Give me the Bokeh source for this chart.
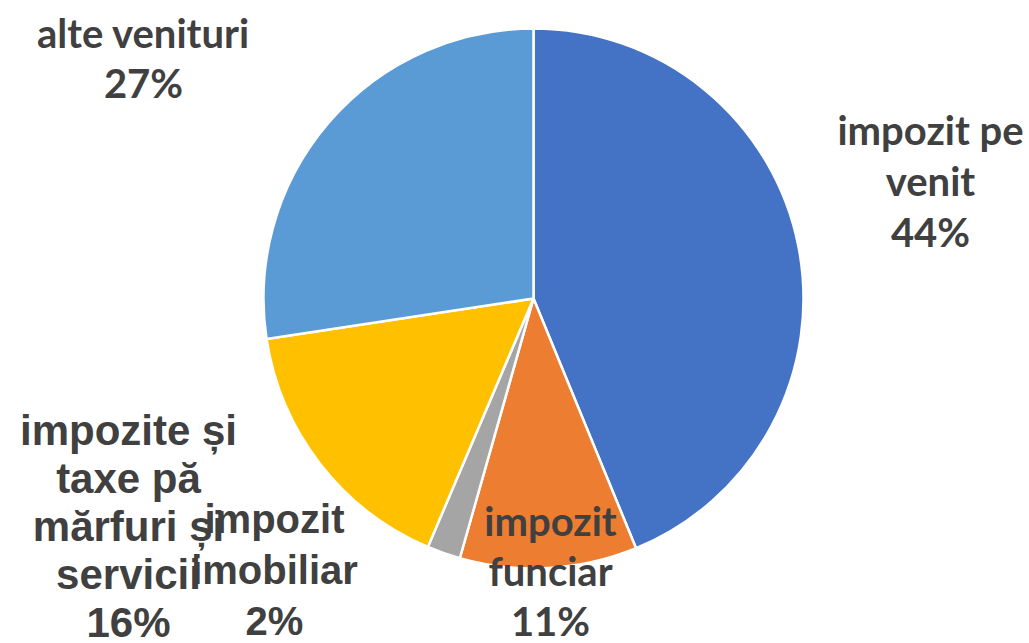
import math
from bokeh.plotting import figure
from bokeh.models import Range1d, ColumnDataSource
from bokeh.core.properties import value
from bokeh.embed import file_html
from bokeh.resources import INLINE

# ---- data ----
categories = ["impozit pe venit", "impozit funciar", "impozit imobiliar",
              "impozite și taxe pă mărfuri și servicii", "alte venituri"]
shares = [43.8, 10.6, 2.0, 16.2, 27.4]
pct_labels = ["44%", "11%", "2%", "16%", "27%"]
label_lines = [["impozit pe", "venit"], ["impozit", "funciar"], ["impozit", "imobiliar"],
               ["impozite și", "taxe pă", "mărfuri și", "servicii"], ["alte venituri"]]
colors = ["#4472C4", "#ED7D31", "#A5A5A5", "#FFC000", "#5B9BD5"]

# ---- layout (styles / positions) ----
W, H = 1029, 643
def X(px): return px
def Y(py): return H - py

cx, cy, R = X(533), Y(298), 270
label_anchor = [(930, 129), (550, 520), (274, 518), (128, 430), (143, 32)]  # first line centre (image px)
label_step = [51, 50, 51, 48, 50]
label_font = ["Lato", "Lato", "Liberation Sans", "Liberation Sans", "Lato"]
label_size = ["40px", "40px", "40px", "42px", "40px"]

p = figure(width=W, height=H, x_range=Range1d(0, W), y_range=Range1d(0, H),
           output_backend="svg", toolbar_location=None, min_border=0)
p.axis.visible = False
p.grid.visible = False
p.outline_line_color = None

total = sum(shares)
starts, ends = [], []
cum = 0.0
for s in shares:
    starts.append(math.pi / 2 - 2 * math.pi * cum / total)
    cum += s
    ends.append(math.pi / 2 - 2 * math.pi * cum / total)

src = ColumnDataSource(dict(start=starts, end=ends, color=colors, name=categories))
p.wedge(x=cx, y=cy, radius=R, start_angle="start", end_angle="end", direction="clock",
        fill_color="color", line_color="white", line_width=2.5, source=src)

for i in range(len(categories)):
    lines = label_lines[i] + [pct_labels[i]]
    ax, ay = label_anchor[i]
    xs = [X(ax)] * len(lines)
    ys = [Y(ay + k * label_step[i]) for k in range(len(lines))]
    p.text(x=xs, y=ys, text=lines, text_align="center", text_baseline="middle",
           text_font=value(label_font[i]), text_font_size=label_size[i],
           text_font_style="bold", text_color="#404040")

open("out.html", "w").write(file_html(p, INLINE))
